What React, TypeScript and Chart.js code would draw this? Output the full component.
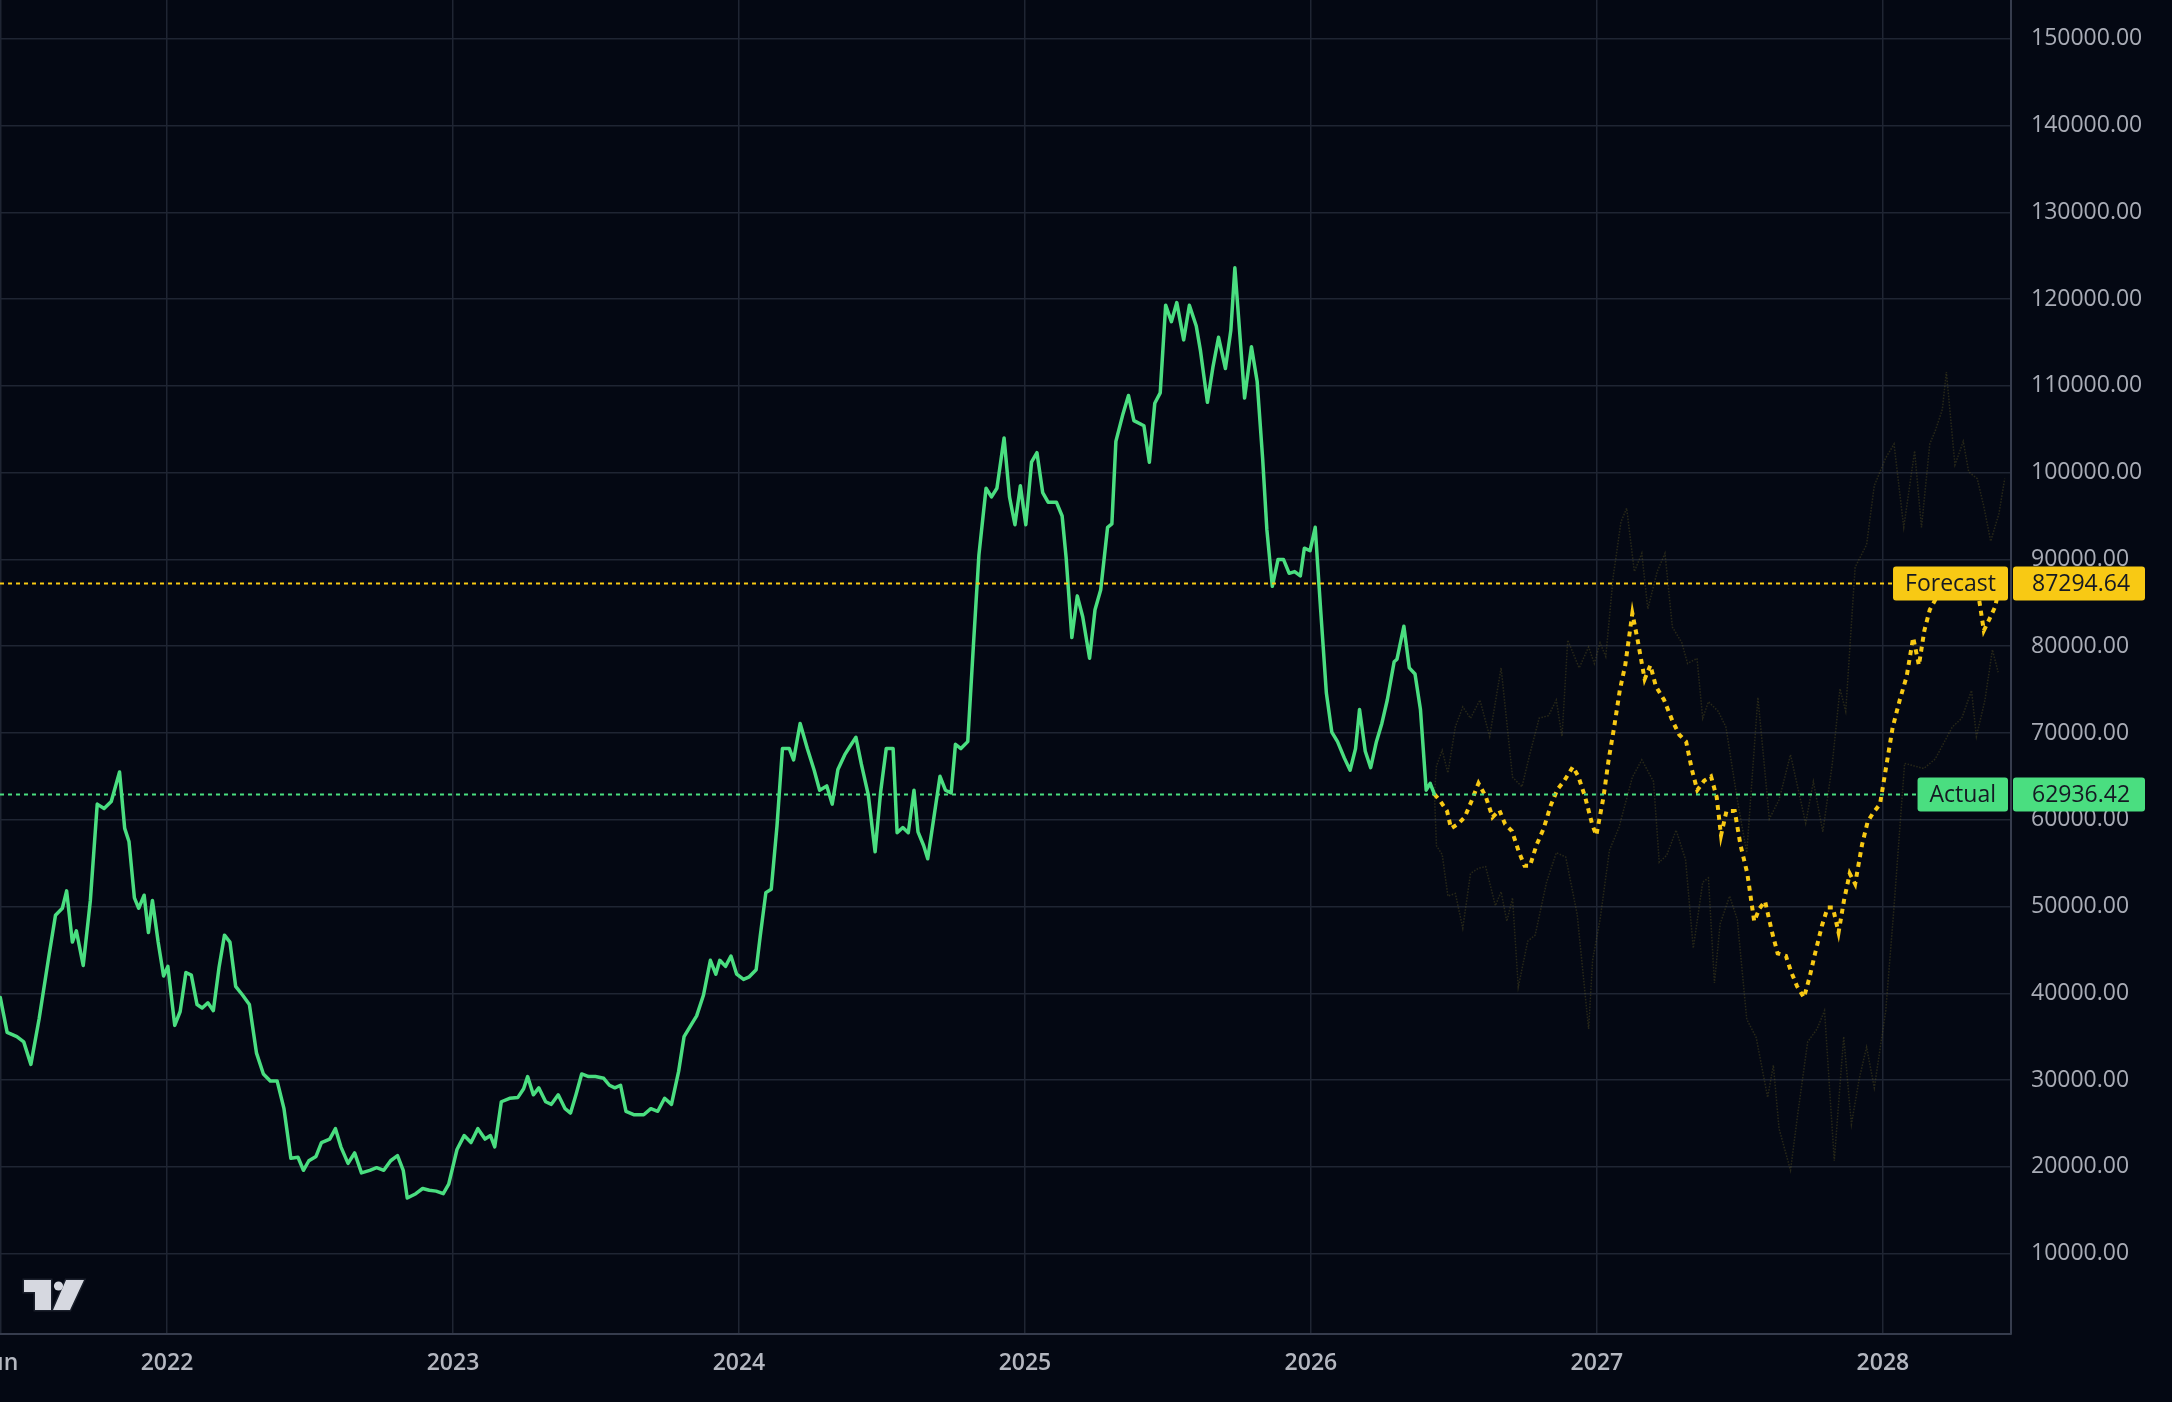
import React, { useEffect, useRef } from 'react';
import { Chart, registerables } from 'chart.js';

Chart.register(...registerables);

// ---------- DATA ----------
// time expressed as decimal years
const actualT = [
  2021.417, 2021.441, 2021.475, 2021.499, 2021.524, 2021.553, 2021.587, 2021.610, 2021.634, 2021.649,
  2021.669, 2021.683, 2021.707, 2021.732, 2021.756, 2021.780, 2021.805, 2021.834, 2021.852, 2021.867,
  2021.886, 2021.901, 2021.920, 2021.935, 2021.949, 2021.969, 2021.988, 2022.003, 2022.027, 2022.046,
  2022.066, 2022.085, 2022.105, 2022.123, 2022.143, 2022.162, 2022.182, 2022.201, 2022.220, 2022.240,
  2022.264, 2022.288, 2022.313, 2022.337, 2022.361, 2022.385, 2022.409, 2022.433, 2022.458, 2022.477,
  2022.496, 2022.521, 2022.540, 2022.569, 2022.589, 2022.608, 2022.633, 2022.656, 2022.680, 2022.709,
  2022.733, 2022.758, 2022.782, 2022.806, 2022.826, 2022.840, 2022.870, 2022.894, 2022.917, 2022.941,
  2022.966, 2022.985, 2023.014, 2023.039, 2023.063, 2023.087, 2023.112, 2023.131, 2023.146, 2023.169,
  2023.198, 2023.227, 2023.247, 2023.261, 2023.281, 2023.300, 2023.324, 2023.344, 2023.368, 2023.392,
  2023.411, 2023.430, 2023.450, 2023.474, 2023.498, 2023.527, 2023.547, 2023.566, 2023.586, 2023.605,
  2023.634, 2023.667, 2023.692, 2023.716, 2023.740, 2023.764, 2023.789, 2023.808, 2023.837, 2023.852,
  2023.876, 2023.900, 2023.919, 2023.933, 2023.953, 2023.972, 2023.992, 2024.016, 2024.036, 2024.060,
  2024.074, 2024.094, 2024.113, 2024.133, 2024.152, 2024.176, 2024.191, 2024.214, 2024.239, 2024.263,
  2024.282, 2024.307, 2024.326, 2024.346, 2024.370, 2024.389, 2024.409, 2024.428, 2024.452, 2024.476,
  2024.495, 2024.515, 2024.539, 2024.553, 2024.573, 2024.592, 2024.612, 2024.626, 2024.646, 2024.660,
  2024.680, 2024.703, 2024.722, 2024.742, 2024.757, 2024.776, 2024.800, 2024.820, 2024.839, 2024.864,
  2024.883, 2024.902, 2024.927, 2024.946, 2024.965, 2024.984, 2025.003, 2025.023, 2025.042, 2025.062,
  2025.081, 2025.110, 2025.130, 2025.144, 2025.164, 2025.183, 2025.202, 2025.226, 2025.245, 2025.265,
  2025.289, 2025.304, 2025.318, 2025.343, 2025.362, 2025.381, 2025.416, 2025.435, 2025.454, 2025.473,
  2025.492, 2025.512, 2025.531, 2025.555, 2025.575, 2025.599, 2025.614, 2025.638, 2025.657, 2025.677,
  2025.701, 2025.720, 2025.734, 2025.754, 2025.768, 2025.792, 2025.812, 2025.831, 2025.846, 2025.865,
  2025.885, 2025.904, 2025.924, 2025.943, 2025.963, 2025.977, 2025.997, 2026.015, 2026.034, 2026.054,
  2026.073, 2026.093, 2026.117, 2026.137, 2026.156, 2026.170, 2026.190, 2026.209, 2026.229, 2026.248,
  2026.267, 2026.291, 2026.301, 2026.325, 2026.344, 2026.364, 2026.383, 2026.403, 2026.417, 2026.432,
];
const actualV = [
  39500, 35500, 35000, 34400, 31800, 37100, 44300, 49000, 49800, 51800,
  45900, 47200, 43200, 50700, 61800, 61300, 62100, 65500, 59000, 57500,
  51000, 49800, 51300, 47000, 50700, 45900, 42000, 43100, 36300, 37900,
  42400, 42100, 38700, 38300, 38900, 38000, 43000, 46700, 45900, 40800,
  39800, 38700, 33100, 30700, 29900, 29900, 26700, 21000, 21100, 19600,
  20700, 21200, 22800, 23200, 24400, 22300, 20400, 21600, 19300, 19600,
  19900, 19600, 20700, 21300, 19600, 16400, 16900, 17500, 17300, 17200,
  16900, 18000, 22000, 23600, 22800, 24400, 23200, 23600, 22300, 27500,
  27900, 28000, 29000, 30400, 28300, 29100, 27500, 27200, 28300, 26700,
  26200, 28300, 30700, 30400, 30400, 30200, 29400, 29100, 29400, 26400,
  26000, 26000, 26700, 26400, 27900, 27200, 31000, 35000, 36600, 37400,
  39800, 43800, 42200, 43800, 43100, 44300, 42200, 41600, 41900, 42700,
  46500, 51600, 52000, 59300, 68200, 68200, 66900, 71100, 68200, 65700,
  63400, 63900, 61800, 65800, 67500, 68500, 69500, 66400, 62900, 56300,
  63100, 68200, 68200, 58500, 59100, 58500, 63400, 58600, 57000, 55500,
  59900, 65000, 63400, 63100, 68700, 68200, 69000, 80200, 90500, 98200,
  97200, 98200, 104000, 97200, 94000, 98500, 94000, 101200, 102300, 97700,
  96600, 96600, 95000, 90200, 81000, 85800, 83400, 78600, 84200, 86500,
  93700, 94100, 103600, 106800, 108900, 106000, 105400, 101200, 108000, 109200,
  119300, 117400, 119600, 115300, 119300, 116900, 114000, 108100, 112100, 115600,
  112000, 116400, 123600, 114800, 108600, 114500, 110500, 101700, 93400, 86900,
  90000, 90000, 88400, 88600, 88100, 91300, 91000, 93700, 84200, 74600,
  70100, 69000, 67100, 65700, 68200, 72700, 67900, 66000, 69000, 71100,
  73800, 78200, 78500, 82300, 77500, 76800, 72700, 63400, 64200, 62936.42,
];

const forecastT = [
  2026.432, 2026.451, 2026.476, 2026.490, 2026.514, 2026.538, 2026.562, 2026.586, 2026.611, 2026.635,
  2026.659, 2026.679, 2026.703, 2026.727, 2026.747, 2026.766, 2026.789, 2026.814, 2026.838, 2026.862,
  2026.886, 2026.916, 2026.935, 2026.959, 2026.984, 2026.998, 2027.023, 2027.041, 2027.060, 2027.080,
  2027.099, 2027.124, 2027.143, 2027.167, 2027.187, 2027.206, 2027.235, 2027.264, 2027.288, 2027.312,
  2027.332, 2027.351, 2027.375, 2027.399, 2027.419, 2027.434, 2027.453, 2027.482, 2027.502, 2027.526,
  2027.550, 2027.569, 2027.588, 2027.612, 2027.632, 2027.661, 2027.680, 2027.700, 2027.724, 2027.744,
  2027.763, 2027.787, 2027.807, 2027.825, 2027.845, 2027.864, 2027.884, 2027.903, 2027.927, 2027.947,
  2027.966, 2027.990, 2028.010, 2028.034, 2028.059, 2028.083, 2028.106, 2028.126, 2028.145, 2028.164,
  2028.184, 2028.208, 2028.232, 2028.256, 2028.291, 2028.315, 2028.335, 2028.353, 2028.372, 2028.392,
  2028.411,
];
const forecastV = [
  62936.42, 62200, 61000, 59000, 59500, 60300, 62200, 64200, 62700, 60300,
  61100, 59500, 58700, 56300, 54700, 54700, 57100, 59000, 61600, 63500,
  64500, 66100, 65000, 62600, 59400, 58200, 62600, 66900, 70600, 74900,
  77800, 83800, 80600, 76200, 77800, 75400, 73800, 71400, 69800, 69000,
  65800, 63400, 64500, 65000, 62600, 58200, 61000, 61000, 57100, 53800,
  48300, 49800, 50600, 47100, 44600, 44300, 42400, 40800, 39500, 41900,
  44600, 47800, 49900, 49900, 47000, 50700, 53800, 52600, 57100, 59800,
  60800, 61800, 65800, 70600, 73800, 76500, 81000, 77800, 81800, 84200,
  85400, 86500, 86500, 87300, 87600, 87300, 85700, 81800, 83100, 84500,
  87294.64,
];

const upperT = [
  2026.432, 2026.439, 2026.459, 2026.479, 2026.505, 2026.531, 2026.558, 2026.591, 2026.625, 2026.665,
  2026.705, 2026.738, 2026.765, 2026.798, 2026.831, 2026.858, 2026.878, 2026.898, 2026.938, 2026.971,
  2026.991, 2027.011, 2027.031, 2027.057, 2027.084, 2027.104, 2027.131, 2027.157, 2027.178, 2027.211,
  2027.238, 2027.264, 2027.297, 2027.317, 2027.350, 2027.370, 2027.390, 2027.424, 2027.451, 2027.491,
  2027.524, 2027.563, 2027.603, 2027.637, 2027.677, 2027.730, 2027.757, 2027.790, 2027.823, 2027.850,
  2027.870, 2027.903, 2027.943, 2027.970, 2028.010, 2028.039, 2028.073, 2028.111, 2028.135, 2028.164,
  2028.184, 2028.208, 2028.222, 2028.252, 2028.281, 2028.300, 2028.330, 2028.353, 2028.377, 2028.406,
  2028.426,
];
const upperV = [
  62936, 66200, 68000, 65400, 70700, 73000, 71700, 73800, 69600, 77500,
  64900, 63800, 67500, 71700, 72000, 73800, 69600, 80700, 77500, 79900,
  78000, 80400, 78800, 88000, 94300, 95900, 88600, 90700, 84300, 88600,
  90700, 82200, 80400, 78000, 78600, 71700, 73600, 72500, 70700, 62300,
  56200, 74100, 60100, 62300, 67500, 59600, 64400, 58600, 66400, 75100,
  72500, 89100, 91700, 98500, 101700, 103300, 93700, 102500, 93700, 103300,
  104900, 107300, 111600, 100900, 103600, 100100, 99300, 96100, 92100, 95300,
  99300,
];

const lowerT = [
  2026.432, 2026.439, 2026.459, 2026.479, 2026.505, 2026.531, 2026.558, 2026.585, 2026.611, 2026.645,
  2026.665, 2026.685, 2026.705, 2026.725, 2026.758, 2026.784, 2026.824, 2026.858, 2026.891, 2026.931,
  2026.971, 2026.985, 2027.011, 2027.044, 2027.077, 2027.124, 2027.157, 2027.198, 2027.218, 2027.244,
  2027.277, 2027.310, 2027.337, 2027.370, 2027.390, 2027.411, 2027.431, 2027.464, 2027.491, 2027.524,
  2027.557, 2027.597, 2027.617, 2027.637, 2027.677, 2027.704, 2027.737, 2027.770, 2027.796, 2027.830,
  2027.863, 2027.890, 2027.917, 2027.943, 2027.970, 2028.010, 2028.037, 2028.076, 2028.143, 2028.183,
  2028.243, 2028.276, 2028.310, 2028.327, 2028.357, 2028.383, 2028.403,
];
const lowerV = [
  62936, 57000, 56000, 51200, 51500, 47500, 53800, 54400, 54600, 50100,
  51700, 48300, 51000, 40700, 46000, 46700, 52800, 56200, 55700, 49100,
  35900, 43800, 48500, 56500, 59100, 64900, 66900, 64400, 55100, 55900,
  58800, 55400, 45200, 52800, 53300, 41200, 48000, 51200, 48500, 37000,
  34900, 28000, 31700, 24400, 19600, 26500, 34400, 35900, 38000, 20700,
  35000, 24900, 30100, 33800, 29100, 38000, 49100, 66500, 65900, 67000,
  70700, 71700, 74900, 69600, 73800, 79600, 77000,
];

const xTickValues = [2021.417, 2022, 2023, 2024, 2025, 2026, 2027, 2028];
const xTickLabels = ['Jun', '2022', '2023', '2024', '2025', '2026', '2027', '2028'];
const yTickValues = [
  10000, 20000, 30000, 40000, 50000, 60000, 70000, 80000,
  90000, 100000, 110000, 120000, 130000, 140000, 150000,
];

const forecastLabel = 'Forecast';
const actualLabel = 'Actual';

// ---------- STYLE ----------
const W = 2172;
const H = 1402;
const BG = '#040813';
const GRID = '#1f2533';
const AXIS = '#363c4d';
const GREEN = '#4ade80';
const YELLOW = '#f8c914';
const BAND = 'rgba(115,105,35,0.33)';
const TEXT = '#a9acb6';
const FONT = "'Open Sans', 'DejaVu Sans', sans-serif";

const toPts = (t: number[], v: number[]) => t.map((x, i) => ({ x, y: v[i] }));

const bgPlugin = {
  id: 'bg',
  beforeDraw(chart: any) {
    const { ctx } = chart;
    ctx.save();
    ctx.fillStyle = BG;
    ctx.fillRect(0, 0, chart.width, chart.height);
    ctx.restore();
  },
};

function roundRect(ctx: CanvasRenderingContext2D, x: number, y: number, w: number, h: number, r: number) {
  ctx.beginPath();
  ctx.moveTo(x + r, y);
  ctx.lineTo(x + w - r, y);
  ctx.quadraticCurveTo(x + w, y, x + w, y + r);
  ctx.lineTo(x + w, y + h - r);
  ctx.quadraticCurveTo(x + w, y + h, x + w - r, y + h);
  ctx.lineTo(x + r, y + h);
  ctx.quadraticCurveTo(x, y + h, x, y + h - r);
  ctx.lineTo(x, y + r);
  ctx.quadraticCurveTo(x, y, x + r, y);
  ctx.closePath();
}

const markersPlugin = {
  id: 'markers',
  afterDraw(chart: any) {
    const { ctx, chartArea, scales } = chart;
    const ys = scales.y;
    const items = [
      { name: forecastLabel, value: forecastV[forecastV.length - 1], color: YELLOW },
      { name: actualLabel, value: actualV[actualV.length - 1], color: GREEN },
    ];
    ctx.save();
    ctx.font = `23px ${FONT}`;
    const boxH = 34;
    items.forEach((it) => {
      const y = Math.round(ys.getPixelForValue(it.value)) + 0.5;
      const nameW = ctx.measureText(it.name).width + 24;
      const nameRight = chartArea.right - 3;
      const nameLeft = nameRight - nameW;
      ctx.save();
      ctx.beginPath();
      ctx.rect(chartArea.left, chartArea.top, chartArea.right - chartArea.left, chartArea.bottom - chartArea.top);
      ctx.clip();
      ctx.strokeStyle = it.color;
      ctx.lineWidth = 2;
      ctx.setLineDash([4, 4]);
      ctx.beginPath();
      ctx.moveTo(chartArea.left, y);
      ctx.lineTo(nameLeft, y);
      ctx.stroke();
      ctx.restore();
      ctx.fillStyle = it.color;
      roundRect(ctx, nameLeft, y - boxH / 2, nameW, boxH, 3);
      ctx.fill();
      const valLeft = chartArea.right + 2;
      const valRight = W - 27;
      roundRect(ctx, valLeft, y - boxH / 2, valRight - valLeft, boxH, 3);
      ctx.fill();
      ctx.fillStyle = '#151923';
      ctx.textBaseline = 'middle';
      ctx.textAlign = 'center';
      ctx.fillText(it.name, nameLeft + nameW / 2, y + 1);
      ctx.textAlign = 'left';
      ctx.fillText(it.value.toFixed(2), chartArea.right + 21, y + 1);
    });
    ctx.restore();

    // watermark logo
    ctx.save();
    ctx.fillStyle = '#d6d8e0';
    ctx.strokeStyle = '#1a1f2b';
    ctx.lineWidth = 3;
    const logo = new Path2D();
    logo.moveTo(24, 1280);
    logo.lineTo(51, 1280);
    logo.lineTo(51, 1310);
    logo.lineTo(35, 1310);
    logo.lineTo(35, 1292);
    logo.lineTo(24, 1292);
    logo.closePath();
    logo.moveTo(66, 1280);
    logo.lineTo(84, 1280);
    logo.lineTo(70, 1310);
    logo.lineTo(53, 1310);
    logo.closePath();
    ctx.stroke(logo);
    ctx.fill(logo);
    ctx.beginPath();
    ctx.arc(58.5, 1286, 4.6, 0, Math.PI * 2);
    ctx.fill();
    ctx.restore();
  },
};

export default function App() {
  const ref = useRef<HTMLCanvasElement>(null);
  useEffect(() => {
    document.body.style.margin = '0';
    document.body.style.background = BG;
    const chart = new Chart(ref.current!, {
      type: 'line',
      data: {
        datasets: [
          {
            data: toPts(upperT, upperV),
            borderColor: BAND,
            borderWidth: 1.5,
            borderDash: [1.5, 1.5],
            pointRadius: 0,
            tension: 0,
            order: 4,
          },
          {
            data: toPts(lowerT, lowerV),
            borderColor: BAND,
            borderWidth: 1.5,
            borderDash: [1.5, 1.5],
            pointRadius: 0,
            tension: 0,
            order: 3,
          },
          {
            data: toPts(actualT, actualV),
            borderColor: GREEN,
            borderWidth: 3.5,
            pointRadius: 0,
            tension: 0,
            borderJoinStyle: 'round',
            borderCapStyle: 'round',
            order: 2,
          },
          {
            data: toPts(forecastT, forecastV),
            borderColor: YELLOW,
            borderWidth: 4,
            borderDash: [5, 5],
            pointRadius: 0,
            tension: 0,
            order: 1,
          },
        ] as any,
      },
      options: {
        responsive: false,
        animation: false,
        devicePixelRatio: 1,
        layout: { padding: 0 },
        plugins: { legend: { display: false }, tooltip: { enabled: false } },
        scales: {
          x: {
            type: 'linear',
            min: 2021.416,
            max: 2028.448,
            afterBuildTicks: (s: any) => {
              s.ticks = xTickValues.map((v) => ({ value: v }));
            },
            afterFit: (s: any) => {
              s.height = H - 1334;
              s.paddingLeft = 0;
              s.paddingRight = 0;
            },
            grid: { color: GRID, lineWidth: 1.5, drawTicks: false },
            border: { display: true, color: AXIS, width: 2 },
            ticks: {
              autoSkip: false,
              maxRotation: 0,
              padding: 16,
              color: '#b4b7c0',
              font: { family: FONT, size: 23, weight: '600' as any },
              callback: (_v: any, i: number) => xTickLabels[i],
            },
          },
          y: {
            type: 'linear',
            position: 'right',
            min: 734,
            max: 154470,
            afterBuildTicks: (s: any) => {
              s.ticks = yTickValues.map((v) => ({ value: v }));
            },
            afterFit: (s: any) => {
              s.width = W - 2011;
              s.paddingTop = 0;
              s.paddingBottom = 0;
            },
            grid: { color: GRID, lineWidth: 1.5, drawTicks: false },
            border: { display: true, color: AXIS, width: 2 },
            ticks: {
              padding: 20,
              color: TEXT,
              font: { family: FONT, size: 23 },
              callback: (v: any) => Number(v).toFixed(2),
            },
          },
        },
      } as any,
      plugins: [bgPlugin, markersPlugin],
    });
    return () => chart.destroy();
  }, []);
  return (
    <div style={{ position: 'absolute', left: 0, top: 0, width: W, height: H, background: BG }}>
      <canvas ref={ref} width={W} height={H} style={{ display: 'block', width: W, height: H }} />
    </div>
  );
}
